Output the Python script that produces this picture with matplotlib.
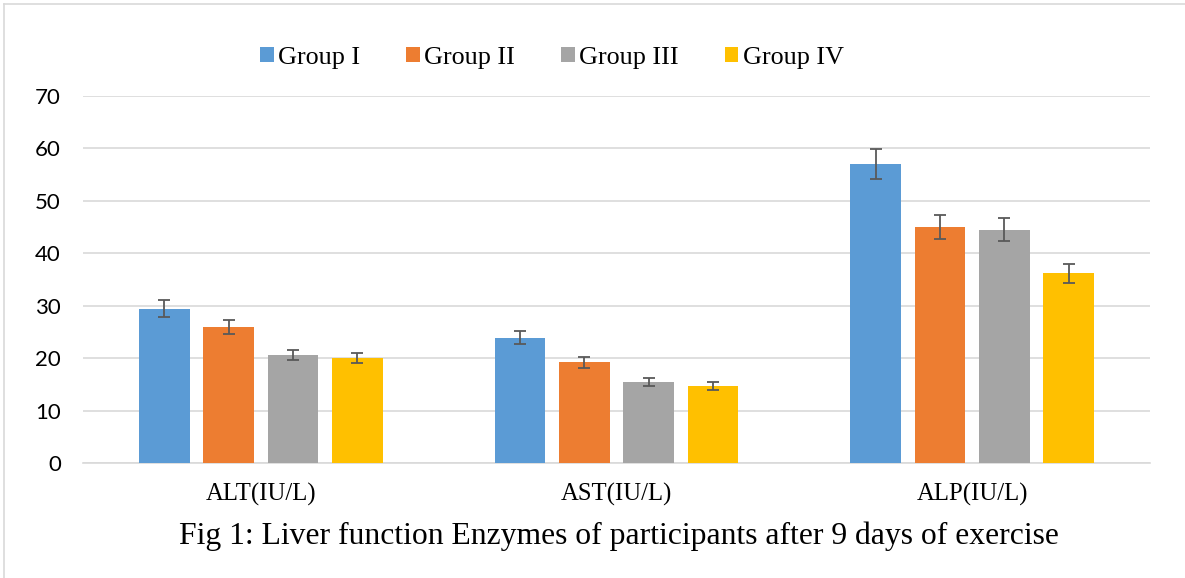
import matplotlib
matplotlib.use("Agg")
import matplotlib.pyplot as plt
import numpy as np
from matplotlib.lines import Line2D

categories = ["ALT(IU/L)", "AST(IU/L)", "ALP(IU/L)"]
groups = ["Group I", "Group II", "Group III", "Group IV"]
values = {
    "Group I": [29.4, 23.9, 57.0],
    "Group II": [25.9, 19.2, 45.0],
    "Group III": [20.6, 15.5, 44.5],
    "Group IV": [20.0, 14.7, 36.2],
}
errors = {
    "Group I": [1.6, 1.2, 2.85],
    "Group II": [1.3, 1.0, 2.25],
    "Group III": [1.0, 0.75, 2.2],
    "Group IV": [1.0, 0.75, 1.8],
}
colors = ["#5B9BD5", "#ED7D31", "#A5A5A5", "#FFC000"]
yticks = [0, 10, 20, 30, 40, 50, 60, 70]
caption = "Fig 1: Liver function Enzymes of participants after 9 days of exercise"

W, H = 1185, 578
fig = plt.figure(figsize=(W / 100, H / 100), dpi=100)
ax = fig.add_axes([83 / W, 1 - 463 / H, (1150 - 83) / W, (463 - 96) / H])

x = np.arange(len(categories))
width = 0.143
step = 0.181
for i, g in enumerate(groups):
    pos = x + (i - 1.5) * step
    ax.bar(pos, values[g], width, color=colors[i], label=g, zorder=3)
    ax.errorbar(pos, values[g], yerr=errors[g], fmt="none", ecolor="#595959",
                elinewidth=1.3, capsize=4.5, capthick=1.3, zorder=4)

ax.set_xlim(-0.5, 2.5)
ax.set_ylim(0, 70)
ax.set_yticks(yticks)
ax.set_yticklabels([str(t) for t in yticks], fontfamily="Lato", fontsize=16)
ax.set_xticks(x)
ax.set_xticklabels(categories, fontfamily="Liberation Serif", fontsize=17.8)
ax.tick_params(axis="both", length=0)
ax.tick_params(axis="y", pad=16)
ax.tick_params(axis="x", pad=14)
ax.grid(axis="y", color="#D9D9D9", linewidth=1.2, zorder=0)
for s in ["top", "right", "left"]:
    ax.spines[s].set_visible(False)
ax.spines["bottom"].set_color("#D9D9D9")
ax.spines["bottom"].set_linewidth(1.2)

leg = fig.legend(loc="center", bbox_to_anchor=(552 / W, 1 - 58 / H), ncol=4,
                 frameon=False, prop={"family": "Liberation Serif", "size": 18.8},
                 handlelength=0.52, handleheight=0.52, handletextpad=0.18,
                 columnspacing=1.75)

fig.text(619 / W, 1 - 536 / H, caption, ha="center", va="center",
         fontfamily="Liberation Serif", fontsize=22.8)

# outer light border
fig.add_artist(Line2D([4 / W, 1], [1 - 4 / H, 1 - 4 / H], transform=fig.transFigure,
                      color="#D9D9D9", linewidth=1.2))
fig.add_artist(Line2D([4 / W, 4 / W], [0, 1 - 4 / H], transform=fig.transFigure,
                      color="#D9D9D9", linewidth=1.2))

fig.savefig("out.png", dpi=100)
